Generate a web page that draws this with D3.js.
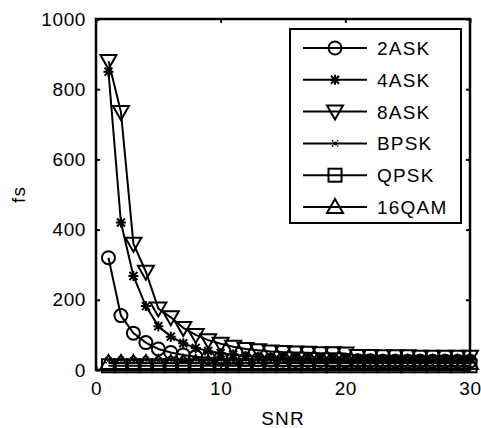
<!DOCTYPE html>
<html>
<head>
<meta charset="utf-8">
<script src="https://cdn.jsdelivr.net/npm/d3@7"></script>
<style>
  body { margin: 0; background: #fff; }
  text { font-family: "Liberation Sans", Arial, sans-serif; font-size: 19px; letter-spacing: 1.2px; fill: #000; }
</style>
</head>
<body>
<script>
// values
var snr    = [1,2,3,4,5,6,7,8,9,10,11,12,13,14,15,16,17,18,19,20,21,22,23,24,25,26,27,28,29,30];
var ask2   = [320,155,105,78,60,50,43,38,35,33,31,30,29,28,28,27,27,27,26,26,26,26,25,25,25,25,25,25,25,25];
var ask4   = [850,420,268,182,125,95,76,63,54,48,44,40,38,36,35,34,33,33,32,32,31,31,31,30,30,30,30,30,30,30];
var ask8   = [880,735,360,280,175,150,120,100,85,75,66,60,56,53,51,50,49,48,48,47,40,40,39,39,39,38,38,38,38,38];
var bpsk   = [28,29,28,29,28,29,28,29,28,29,28,29,28,29,28,29,28,29,28,29,28,29,28,29,28,29,28,29,28,29];
var qpsk   = [12,12,12,12,12,12,12,12,12,12,12,12,12,12,12,12,12,12,12,12,12,12,12,12,12,12,12,12,12,12];
var qam16  = [20,20,20,20,20,20,20,20,20,20,20,20,20,20,20,20,20,20,20,20,20,20,20,20,20,20,20,20,20,20];
var names  = ["2ASK","4ASK","8ASK","BPSK","QPSK","16QAM"];
var markers = ["circle","star","tridown","cross","square","triup"];
var xTicks = [0,10,20,30];
var yTicks = [0,200,400,600,800,1000];

var series = [ask2, ask4, ask8, bpsk, qpsk, qam16];

var margin = {top: 19, right: 11, bottom: 58, left: 96};
var width = 481 - margin.left - margin.right;
var height = 428 - margin.top - margin.bottom;

var xScale = d3.scaleLinear().domain([0,30]).range([0,width]);
var yScale = d3.scaleLinear().domain([0,1000]).range([height,0]);

var svg = d3.select("body").append("svg")
    .attr("width", 481)
    .attr("height", 428);
var g = svg.append("g")
    .attr("transform", "translate(" + margin.left + "," + margin.top + ")");

// marker drawing
function drawMarker(sel, type) {
  if (type == "circle") {
    sel.append("circle").attr("r", 6.5).attr("fill", "none").attr("stroke", "#000").attr("stroke-width", 2);
  } else if (type == "square") {
    sel.append("rect").attr("x", -6.5).attr("y", -6.5).attr("width", 13).attr("height", 13)
      .attr("fill", "none").attr("stroke", "#000").attr("stroke-width", 2);
  } else if (type == "tridown") {
    sel.append("path").attr("d", "M-8,-6L8,-6L0,8Z").attr("fill", "none").attr("stroke", "#000").attr("stroke-width", 2);
  } else if (type == "triup") {
    sel.append("path").attr("d", "M-8,6L8,6L0,-8Z").attr("fill", "none").attr("stroke", "#000").attr("stroke-width", 2);
  } else if (type == "star") {
    sel.append("path").attr("d", "M-5,0L5,0M0,-5L0,5M-4,-4L4,4M-4,4L4,-4")
      .attr("stroke", "#000").attr("stroke-width", 2);
  } else if (type == "cross") {
    sel.append("path").attr("d", "M-3,-3L3,3M-3,3L3,-3")
      .attr("stroke", "#000").attr("stroke-width", 1.8).attr("stroke-dasharray", "1.5,1");
  }
}

// axes, ticks inward
var xAxis = d3.axisBottom(xScale).tickValues(xTicks).tickFormat(d3.format("d")).tickSizeInner(-4).tickSizeOuter(0).tickPadding(12);
var yAxis = d3.axisLeft(yScale).tickValues(yTicks).tickFormat(d3.format("d")).tickSizeInner(-4).tickSizeOuter(0).tickPadding(10);
var xTop = d3.axisTop(xScale).tickValues(xTicks).tickSizeInner(-4).tickSizeOuter(0).tickFormat("");
var yRight = d3.axisRight(yScale).tickValues(yTicks).tickSizeInner(-4).tickSizeOuter(0).tickFormat("");

var gx = g.append("g").attr("transform", "translate(0," + height + ")").call(xAxis);
var gy = g.append("g").call(yAxis);
g.append("g").call(xTop);
g.append("g").attr("transform", "translate(" + width + ",0)").call(yRight);
g.selectAll(".domain").remove();
g.selectAll(".tick line").attr("stroke", "#000").attr("stroke-width", 2);
g.selectAll(".tick text").style("font-size", "19px").style("letter-spacing", "0.6px")
  .style("font-family", "Liberation Sans, Arial, sans-serif").attr("fill", "#000");
gx.selectAll(".tick text").attr("dy", "0.71em");
gy.selectAll(".tick text").attr("dx", "0");

// lines and markers
var line = d3.line()
  .x(function(d, i) { return xScale(snr[i]); })
  .y(function(d) { return yScale(d); });

series.forEach(function(s, k) {
  g.append("path")
    .datum(s)
    .attr("d", line)
    .attr("fill", "none")
    .attr("stroke", "#000")
    .attr("stroke-width", 2);
  g.selectAll(".m" + k)
    .data(s)
    .enter()
    .append("g")
    .attr("class", "m" + k)
    .attr("transform", function(d, i) { return "translate(" + xScale(snr[i]) + "," + yScale(d) + ")"; })
    .each(function() { drawMarker(d3.select(this), markers[k]); });
});

// box
g.append("rect")
  .attr("width", width).attr("height", height)
  .attr("fill", "none").attr("stroke", "#000").attr("stroke-width", 2.5);

// labels
svg.append("text")
  .attr("x", margin.left + width / 2)
  .attr("y", 425)
  .attr("text-anchor", "middle")
  .text("SNR");
svg.append("text")
  .attr("transform", "translate(25," + (margin.top + height / 2) + ") rotate(-90)")
  .attr("text-anchor", "middle")
  .text("fs");

// legend
var leg = svg.append("g");
leg.append("rect")
  .attr("x", 290).attr("y", 29).attr("width", 171).attr("height", 194)
  .attr("fill", "#fff").attr("stroke", "#000").attr("stroke-width", 2);
names.forEach(function(n, k) {
  var yy = 48 + k * 31.8;
  var row = leg.append("g").attr("transform", "translate(0," + yy + ")");
  row.append("line").attr("x1", 303).attr("x2", 367).attr("y1", 0).attr("y2", 0)
    .attr("stroke", "#000").attr("stroke-width", 2);
  var mk = row.append("g").attr("transform", "translate(335,0)");
  drawMarker(mk, markers[k]);
  row.append("text").attr("x", 377).attr("y", 7).text(n);
});
</script>
</body>
</html>
